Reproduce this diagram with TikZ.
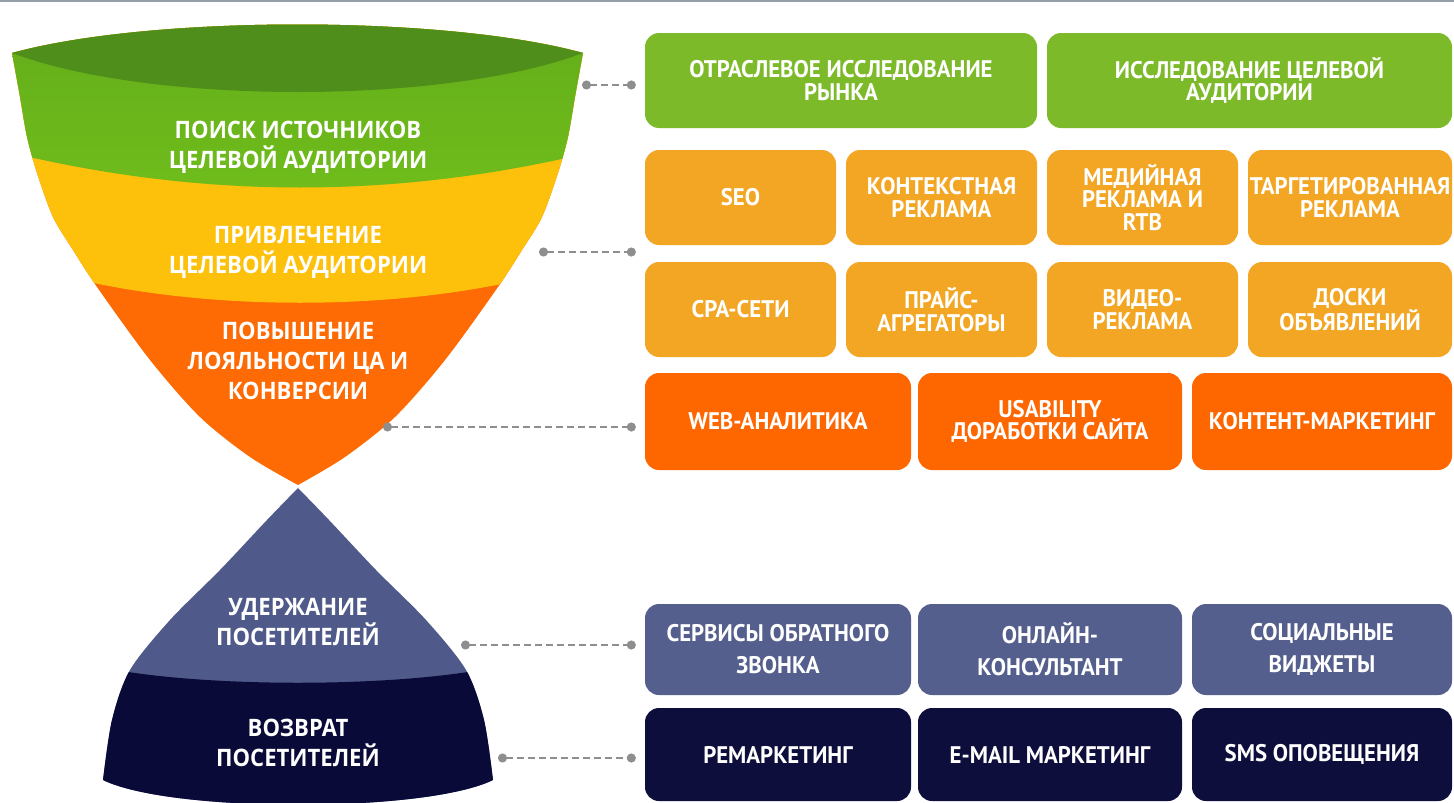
\documentclass[tikz,border=0pt]{standalone}
\usepackage{fontspec}
\usepackage{xcolor}
\usetikzlibrary{arrows.meta}
\usetikzlibrary{calc}

\setmainfont[FakeStretch=0.92]{Open Sans}
\newfontfamily\boxfont[FakeStretch=0.95]{PT Sans}

\definecolor{lensgreen}{HTML}{4F8E1B}
\definecolor{bandgreenA}{HTML}{62AC1A}
\definecolor{bandgreenB}{HTML}{70BD1C}
\definecolor{bandyellow}{HTML}{FDC00B}
\definecolor{bandorange}{HTML}{FE6A03}
\definecolor{domeblue}{HTML}{4F5A8A}
\definecolor{domenavy}{HTML}{0A0A38}
\definecolor{boxgreen}{HTML}{7CBA2A}
\definecolor{boxamber}{HTML}{F2A623}
\definecolor{boxorange}{HTML}{FE6600}
\definecolor{boxblue}{HTML}{545F8E}
\definecolor{boxnavy}{HTML}{0E0E3D}
\definecolor{linkgray}{HTML}{8E8E8E}
\definecolor{edgegray}{HTML}{959DA6}

\begin{document}
\begin{tikzpicture}[x=1pt, y=-1pt]
        % ================= styles =================
        \tikzset{
            % funnel captions: white bold sans
            stage/.style={align=center, text=white, inner sep=0pt, font=\bfseries\fontsize{24}{30}\selectfont},
            % rounded boxes on the right
            tool/.style={rounded corners=14pt, inner sep=0pt, align=center, text=white, font=\boxfont\bfseries\fontsize{24}{22.5}\selectfont},
            tallrow/.style={font=\boxfont\bfseries\fontsize{24}{32}\selectfont},
            % dashed grey connector with round dots
            link/.style={linkgray, line width=2pt, dash pattern=on 7pt off 4pt, {Circle[length=9pt]}-{Circle[length=9pt]}, shorten >=9pt}
        }

        \useasboundingbox (0,0) rectangle (1454,803);
        \draw[line width=2.5pt, edgegray] (0,1) -- (1454,1);

        % ================= upper funnel =================
        \begin{scope}
            \clip (12,53) .. controls (150,15) and (445,15) .. (583,53)
                -- plot[smooth] coordinates {(583,53) (575,97) (568,137) (558,173) (542,217) (522,250) (498,287) (445,360) (395,417) (345,457) (298,485)}
                -- plot[smooth] coordinates {(298,485) (250,457) (200,417) (150,360) (97,287) (73,250) (53,217) (37,173) (27,137) (20,97) (12,53)}
                -- cycle;
            % orange bottom, yellow and green bands above it
            \fill[bandorange] (0,0) rectangle (600,500);
            \fill[bandyellow] (0,0) -- (0,275) -- (60,275) .. controls (200,312) and (400,312) .. (540,275) -- (600,275) -- (600,0) -- cycle;
            \shade[top color=bandgreenA, bottom color=bandgreenB] (0,0) -- (0,150) .. controls (200,200) and (400,200) .. (600,150) -- (600,0) -- cycle;
            % opening of the funnel
            \fill[lensgreen] (12,53) .. controls (150,15) and (445,15) .. (583,53) .. controls (445,105) and (150,105) .. (12,53) -- cycle;
        \end{scope}

        % ================= lower funnel =================
        \begin{scope}
            \clip plot[smooth] coordinates {(298,488) (267,520) (220,570) (170,620) (130,670) (112,720) (103,780)}
                .. controls (170,813) and (426,813) .. (493,780)
                -- plot[smooth] coordinates {(493,780) (484,720) (466,670) (426,620) (376,570) (329,520) (298,488)}
                -- cycle;
            \fill[domeblue] (90,480) rectangle (510,810);
            \fill[domenavy] (100,810) -- (100,667) .. controls (200,688) and (396,688) .. (496,667) -- (496,810) -- cycle;
        \end{scope}

        % funnel captions
        \node[stage] (search) at (298,147) {ПОИСК ИСТОЧНИКОВ\\ЦЕЛЕВОЙ АУДИТОРИИ};
        \node[stage] (attract) at (298,252) {ПРИВЛЕЧЕНИЕ\\ЦЕЛЕВОЙ АУДИТОРИИ};
        \node[stage] (loyal) at (298,361) {ПОВЫШЕНИЕ\\ЛОЯЛЬНОСТИ ЦА И\\КОНВЕРСИИ};
        \node[stage] (keep) at (298,622) {УДЕРЖАНИЕ\\ПОСЕТИТЕЛЕЙ};
        \node[stage] (back) at (298,743) {ВОЗВРАТ\\ПОСЕТИТЕЛЕЙ};

        % ================= boxes on the right =================
        % research
        \node[tool, fill=boxgreen, minimum width=392pt, minimum height=95pt] (ind) at (841,80.5) {ОТРАСЛЕВОЕ ИССЛЕДОВАНИЕ\\РЫНКА};
        \node[tool, fill=boxgreen, minimum width=405pt, minimum height=95pt] (aud) at (1249.5,80.5) {ИССЛЕДОВАНИЕ ЦЕЛЕВОЙ\\АУДИТОРИИ};

        % traffic channels
        \node[tool, fill=boxamber, minimum width=191pt, minimum height=95pt] (seo) at (740.5,197.5) {SEO};
        \node[tool, fill=boxamber, minimum width=191pt, minimum height=95pt] (ctx) at (941.5,197.5) {КОНТЕКСТНАЯ\\РЕКЛАМА};
        \node[tool, fill=boxamber, minimum width=191pt, minimum height=95pt] (media) at (1142.5,197.5) {МЕДИЙНАЯ\\РЕКЛАМА И\\RTB};
        \node[tool, fill=boxamber, minimum width=204pt, minimum height=95pt] (target) at (1350,197.5) {ТАРГЕТИРОВАННАЯ\\РЕКЛАМА};
        \node[tool, fill=boxamber, minimum width=191pt, minimum height=95pt] (cpa) at (740.5,309.5) {CPA-СЕТИ};
        \node[tool, fill=boxamber, minimum width=191pt, minimum height=95pt] (price) at (941.5,309.5) {ПРАЙС-\\АГРЕГАТОРЫ};
        \node[tool, fill=boxamber, minimum width=191pt, minimum height=95pt] (video) at (1142.5,309.5) {ВИДЕО-\\РЕКЛАМА};
        \node[tool, fill=boxamber, minimum width=204pt, minimum height=95pt] (boards) at (1350,309.5) {ДОСКИ\\ОБЪЯВЛЕНИЙ};

        % conversion
        \node[tool, fill=boxorange, minimum width=266pt, minimum height=97pt] (web) at (778,421.5) {WEB-АНАЛИТИКА};
        \node[tool, fill=boxorange, minimum width=264pt, minimum height=97pt] (usab) at (1050,421.5) {USABILITY\\ДОРАБОТКИ САЙТА};
        \node[tool, fill=boxorange, minimum width=260pt, minimum height=97pt] (content) at (1322,421.5) {КОНТЕНТ-МАРКЕТИНГ};

        % retention
        \node[tool, tallrow, fill=boxblue, minimum width=266pt, minimum height=91pt] (call) at (778,649.5) {СЕРВИСЫ ОБРАТНОГО\\ЗВОНКА};
        \node[tool, tallrow, fill=boxblue, minimum width=264pt, minimum height=91pt] (chat) at (1050,649.5) {ОНЛАЙН-\\КОНСУЛЬТАНТ};
        \node[tool, tallrow, fill=boxblue, minimum width=260pt, minimum height=91pt] (social) at (1322,649.5) {СОЦИАЛЬНЫЕ\\ВИДЖЕТЫ};

        % return
        \node[tool, fill=boxnavy, minimum width=266pt, minimum height=93pt] (remk) at (778,754.5) {РЕМАРКЕТИНГ};
        \node[tool, fill=boxnavy, minimum width=264pt, minimum height=93pt] (mail) at (1050,754.5) {E-MAIL МАРКЕТИНГ};
        \node[tool, fill=boxnavy, minimum width=260pt, minimum height=93pt] (sms) at (1322,754.5) {SMS ОПОВЕЩЕНИЯ};

        % ================= connectors =================
        \coordinate (s1) at (582,85);
        \coordinate (s2) at (539,252);
        \coordinate (s3) at (383,427);
        \coordinate (s4) at (461,645);
        \coordinate (s5) at (498,758);

        \foreach \from/\to in {s1/ind, s2/seo, s3/web, s4/call, s5/remk} {
            \draw[link] (\from) -- (\from -| \to.west);
        }

    \end{tikzpicture}
\end{document}
